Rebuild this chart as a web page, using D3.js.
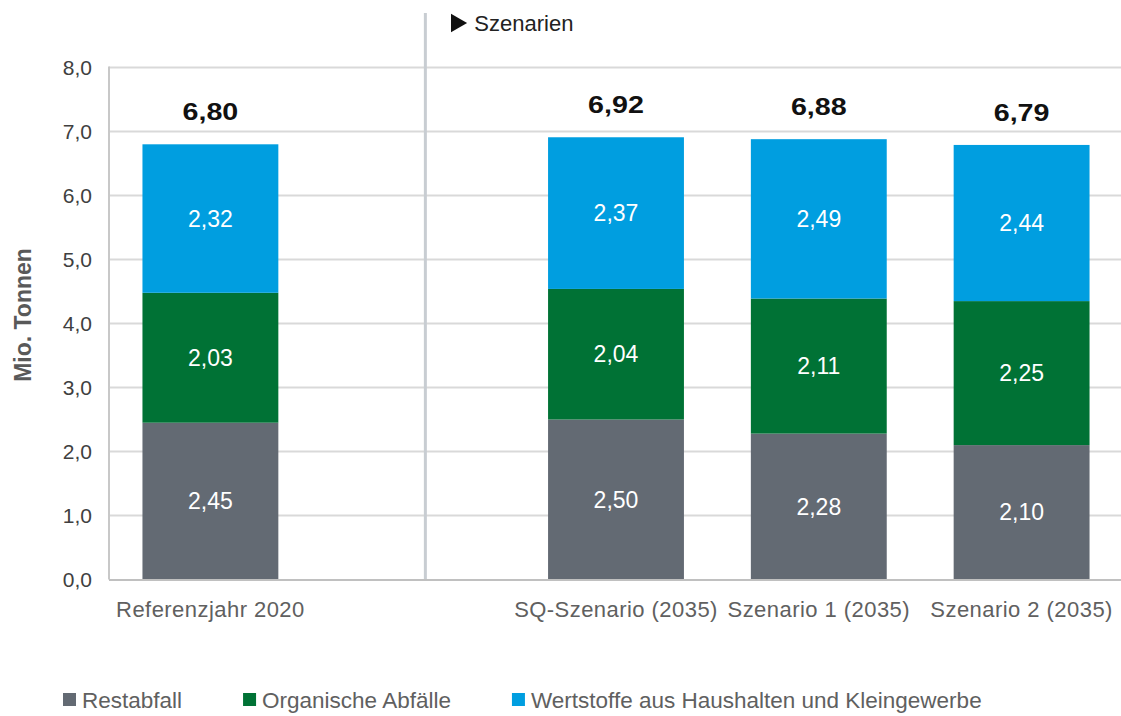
<!DOCTYPE html>
<html>
<head>
<meta charset="utf-8">
<script src="https://cdn.jsdelivr.net/npm/d3@7"></script>
<style>
  html, body { margin: 0; padding: 0; background: #fff; }
  svg { display: block; font-family: "Liberation Sans", Arial, sans-serif; }
</style>
</head>
<body>
<svg id="chart" width="1121" height="716"></svg>
<script>
// ---- data ----
const categories = ["Referenzjahr 2020", "", "SQ-Szenario (2035)", "Szenario 1 (2035)", "Szenario 2 (2035)"];
const seriesNames = ["Restabfall", "Organische Abfälle", "Wertstoffe aus Haushalten und Kleingewerbe"];
const restabfall = [2.45, null, 2.50, 2.28, 2.10];
const organisch = [2.03, null, 2.04, 2.11, 2.25];
const wertstoffe = [2.32, null, 2.37, 2.49, 2.44];
const totals = [6.80, null, 6.92, 6.88, 6.79];
const yTicks = [0, 1, 2, 3, 4, 5, 6, 7, 8];
const colors = ["#636a73", "#007235", "#009ee0"];

const fmt = v => v.toFixed(2).replace(".", ",");
const fmtTick = v => v.toFixed(1).replace(".", ",");

const svg = d3.select("#chart");
const pLeft = 109, pRight = 1123, pTop = 67.5, pBottom = 579.5;

const x = d3.scaleBand().domain(categories).range([pLeft, pRight])
  .paddingInner(0.33).paddingOuter(0.165);
const y = d3.scaleLinear().domain([0, 8]).range([pBottom, pTop]);

// gridlines
svg.append("g").selectAll("line").data(yTicks.filter(d => d > 0)).join("line")
  .attr("x1", pLeft).attr("x2", 1121)
  .attr("y1", d => y(d)).attr("y2", d => y(d))
  .attr("stroke", "#d9d9d9").attr("stroke-width", 2);

// y tick labels
svg.append("g").selectAll("text").data(yTicks).join("text")
  .attr("x", 92).attr("y", d => y(d) + 7.5)
  .attr("text-anchor", "end").attr("font-size", 21).attr("fill", "#404040")
  .text(fmtTick);

// divider
const divX = x(categories[1]) - x.step() * x.paddingInner() / 2 + x.step() * 0.56;
svg.append("line").attr("x1", divX).attr("x2", divX).attr("y1", 13).attr("y2", pBottom)
  .attr("stroke", "#c8cdd2").attr("stroke-width", 3);

// Szenarien label
const sx = divX + 23;
svg.append("path")
  .attr("d", d3.symbol(d3.symbolTriangle, 150)())
  .attr("transform", `translate(${sx + 8},23) rotate(90)`)
  .attr("fill", "#111");
svg.append("text").attr("x", sx + 26).attr("y", 31)
  .attr("font-size", 22).attr("fill", "#222").text("Szenarien");

// stacked data
const rows = categories.map((c, i) => ({cat: c, vals: [restabfall[i], organisch[i], wertstoffe[i]], total: totals[i]}))
  .filter(r => r.vals[0] != null);

const segs = [];
rows.forEach(r => {
  let acc = 0;
  r.vals.forEach((v, k) => { segs.push({cat: r.cat, y0: acc, y1: acc + v, v, k}); acc += v; });
});

svg.append("g").selectAll("rect").data(segs).join("rect")
  .attr("x", d => x(d.cat)).attr("width", x.bandwidth())
  .attr("y", d => y(d.y1)).attr("height", d => y(d.y0) - y(d.y1))
  .attr("fill", d => colors[d.k]);

svg.append("g").selectAll("text").data(segs).join("text")
  .attr("x", d => x(d.cat) + x.bandwidth() / 2)
  .attr("y", d => y((d.y0 + d.y1) / 2) + 8)
  .attr("text-anchor", "middle").attr("font-size", 23).attr("fill", "#fff")
  .text(d => fmt(d.v));

// totals
svg.append("g").selectAll("text").data(rows).join("text")
  .attr("transform", d => `translate(${x(d.cat) + x.bandwidth() / 2},${y(d3.sum(d.vals)) - 24}) scale(1.22,1)`)
  .attr("text-anchor", "middle").attr("font-size", 23.5).attr("font-weight", "bold").attr("fill", "#111")
  .text(d => fmt(d.total));

// axes lines
svg.append("line").attr("x1", pLeft).attr("x2", pLeft).attr("y1", pTop - 1).attr("y2", pBottom)
  .attr("stroke", "#c8c8c8").attr("stroke-width", 2);
svg.append("line").attr("x1", pLeft).attr("x2", 1121).attr("y1", pBottom + 0.5).attr("y2", pBottom + 0.5)
  .attr("stroke", "#c0c0c0").attr("stroke-width", 2);

// x labels
svg.append("g").selectAll("text").data(categories.filter(c => c)).join("text")
  .attr("x", d => x(d) + x.bandwidth() / 2).attr("y", 617)
  .attr("text-anchor", "middle").attr("font-size", 22).attr("letter-spacing", 0.45)
  .attr("fill", "#606060").text(d => d);

// y title
svg.append("text").attr("transform", "translate(31,315) rotate(-90)")
  .attr("text-anchor", "middle").attr("font-size", 23).attr("font-weight", "bold")
  .attr("fill", "#595959").text("Mio. Tonnen");

// legend
const lg = svg.append("g");
let lx = 63;
seriesNames.forEach((name, k) => {
  lg.append("rect").attr("x", lx).attr("y", 693).attr("width", 13).attr("height", 13).attr("fill", colors[k]);
  const t = lg.append("text").attr("x", lx + 19).attr("y", 707.5)
    .attr("font-size", 22.5).attr("fill", "#606060").text(name);
  lx += 19 + t.node().getComputedTextLength() + 61;
});
</script>
</body>
</html>
